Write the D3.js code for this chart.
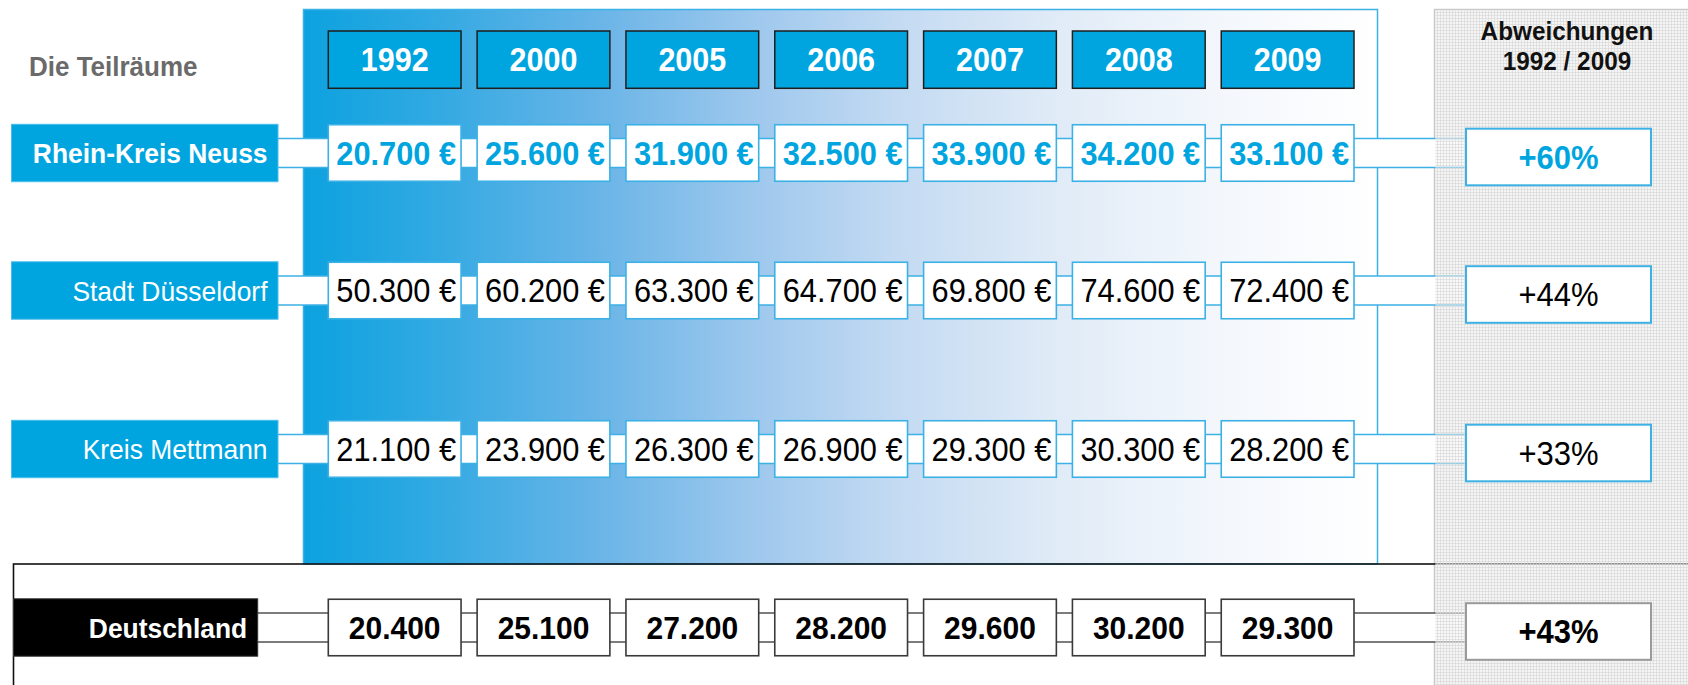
<!DOCTYPE html>
<html>
<head>
<meta charset="utf-8">
<script src="https://cdn.jsdelivr.net/npm/d3@7/dist/d3.min.js"></script>
<style>
html,body{margin:0;padding:0;background:#fff;}
svg{display:block;font-family:"Liberation Sans",Arial,Helvetica,sans-serif;}
</style>
</head>
<body>
<svg id="chart" width="1688" height="685"></svg>
<script>
// ---- data ----
const years = ["1992", "2000", "2005", "2006", "2007", "2008", "2009"];
const regions = ["Rhein-Kreis Neuss", "Stadt Düsseldorf", "Kreis Mettmann"];
const neuss = [20700, 25600, 31900, 32500, 33900, 34200, 33100];
const duesseldorf = [50300, 60200, 63300, 64700, 69800, 74600, 72400];
const mettmann = [21100, 23900, 26300, 26900, 29300, 30300, 28200];
const national = [20400, 25100, 27200, 28200, 29600, 30200, 29300];
const nationalLabel = "Deutschland";
const changes = [60, 44, 33, 43];
const sideTitle = "Die Teilräume";
const changeTitle = ["Abweichungen", "1992 / 2009"];

// ---- layout ----
const svg = d3.select("#chart");
const BLUE = "#00a5e0", LINE = "#3cb1e5";
const fmt = v => d3.format(",")(v).replace(/,/g, ".");
const SY = 1.07; // slight vertical stretch of the glyphs seen in the reference

function txt(parent, xp, yp, size, weight, fill, anchor, str) {
  return parent.append("text")
    .attr("transform", `translate(${xp},${yp}) scale(1,${SY})`)
    .attr("font-size", size).attr("font-weight", weight).attr("fill", fill)
    .attr("text-anchor", anchor).text(str);
}

const x = d3.scaleBand().domain(years).range([328.3, 1354]).paddingInner(0.108).paddingOuter(0);
const rowKeys = regions.concat([nationalLabel]);
const y = d3.scaleOrdinal().domain(rowKeys).range([153, 290.5, 449, 627.5]);
const boxH = 56.5;
const pctX0 = 1466, pctX1 = 1651;

const defs = svg.append("defs");
const grad = defs.append("linearGradient").attr("id", "panelGrad").attr("x1", 0).attr("x2", 1).attr("y1", 0).attr("y2", 0);
[[0, "#0ca2df"], [0.12, "#31a9e2"], [0.27, "#68b4e7"], [0.42, "#9ec8ed"], [0.55, "#c3daf2"], [0.7, "#e0ebf7"], [0.85, "#f3f7fc"], [1, "#ffffff"]]
  .forEach(([o, c]) => grad.append("stop").attr("offset", o).attr("stop-color", c));

const pat = defs.append("pattern").attr("id", "hatch").attr("patternUnits", "userSpaceOnUse").attr("width", 3).attr("height", 3);
pat.append("rect").attr("width", 3).attr("height", 3).attr("fill", "rgba(242,242,242,0.45)");
pat.append("path").attr("d", "M0,0.5H3M0.5,0V3").attr("stroke", "rgba(214,214,214,0.6)").attr("stroke-width", 1);

// blue panel
svg.append("rect").attr("x", 303.5).attr("y", 9.5).attr("width", 1074).attr("height", 554.5)
  .attr("fill", "url(#panelGrad)").attr("stroke", LINE).attr("stroke-width", 1.5);

// gray panel base
svg.append("rect").attr("x", 1434.5).attr("y", 9.5).attr("width", 300).attr("height", 700)
  .attr("fill", "#f7f7f7").attr("stroke", "#c9c9c9").attr("stroke-width", 1.5);

// national frame
svg.append("rect").attr("x", 13.5).attr("y", 564).attr("width", 1720).attr("height", 200)
  .attr("fill", "none").attr("stroke", "#111").attr("stroke-width", 1.6);

// connectors
const labelRight = {"Rhein-Kreis Neuss": 278, "Stadt Düsseldorf": 278, "Kreis Mettmann": 278, "Deutschland": 257.7};
rowKeys.forEach((k, i) => {
  const c = y(k), x0 = labelRight[k], col = i < 3 ? LINE : "#505050";
  svg.append("rect").attr("x", x0).attr("y", c - 14.5).attr("width", pctX0 - x0).attr("height", 29).attr("fill", "#fff");
  [c - 14.5, c + 14.5].forEach(yy => svg.append("line").attr("x1", x0).attr("x2", pctX0).attr("y1", yy).attr("y2", yy)
    .attr("stroke", col).attr("stroke-width", 1.5));
});

// gray overlay
svg.append("rect").attr("x", 1435.3).attr("y", 10.3).attr("width", 260).attr("height", 700).attr("fill", "url(#hatch)");

// titles
txt(svg, 29, 76, 26, "bold", "#6a6a6a", "start", sideTitle);
changeTitle.forEach((t, i) => txt(svg, 1567, 40 + i * 29.5, 24.3, "bold", "#111", "middle", t));

// year header boxes
years.forEach(d => {
  svg.append("rect").attr("x", x(d)).attr("y", 31).attr("width", x.bandwidth()).attr("height", 57.3)
    .attr("fill", BLUE).attr("stroke", "#1e1e1e").attr("stroke-width", 1.5);
  txt(svg, x(d) + x.bandwidth() / 2, 59.6 + 0.358 * 30.5 * SY, 30.5, "bold", "#fff", "middle", d);
});

// rows
const rowStyle = [
  {fill: BLUE, stroke: "#4cbdea", bold: true, vcol: BLUE, vbold: true, euro: true, pstroke: LINE, pcol: BLUE, pbold: true},
  {fill: BLUE, stroke: "#4cbdea", bold: false, vcol: "#000", vbold: false, euro: true, pstroke: LINE, pcol: "#000", pbold: false},
  {fill: BLUE, stroke: "#4cbdea", bold: false, vcol: "#000", vbold: false, euro: true, pstroke: LINE, pcol: "#000", pbold: false},
  {fill: "#000", stroke: "#333", bold: true, vcol: "#000", vbold: true, euro: false, pstroke: "#9a9a9a", pcol: "#000", pbold: true}
];
const series = [neuss, duesseldorf, mettmann, national];
const labelLeft = [11.5, 11.5, 11.5, 13.5];

rowKeys.forEach((k, i) => {
  const s = rowStyle[i], c = y(k);
  svg.append("rect").attr("x", labelLeft[i]).attr("y", c - 28.7).attr("width", labelRight[k] - labelLeft[i]).attr("height", 57.4)
    .attr("fill", s.fill).attr("stroke", s.stroke).attr("stroke-width", 1);
  txt(svg, labelRight[k] - 10.5, c + 0.358 * 26.4 * SY, 26.4, s.bold ? "bold" : "normal", "#fff", "end", k);

  series[i].forEach((v, j) => {
    const yr = years[j];
    svg.append("rect").attr("x", x(yr)).attr("y", c - boxH / 2).attr("width", x.bandwidth()).attr("height", boxH)
      .attr("fill", "#fff").attr("stroke", i < 3 ? LINE : "#3a3a3a").attr("stroke-width", 1.6);
    const fs = s.euro ? 30.8 : 30;
    txt(svg, x(yr) + x.bandwidth() / 2 + (s.euro ? 1.5 : 0), c + 0.358 * fs * SY, fs,
      s.vbold ? "bold" : "normal", s.vcol, "middle", fmt(v) + (s.euro ? " €" : ""));
  });

  const pc = c + 4;
  svg.append("rect").attr("x", pctX0).attr("y", pc - 28.3).attr("width", pctX1 - pctX0).attr("height", 56.6)
    .attr("fill", "#fff").attr("stroke", s.pstroke).attr("stroke-width", 2);
  txt(svg, (pctX0 + pctX1) / 2, pc + 0.358 * 31 * SY, 31, s.pbold ? "bold" : "normal", s.pcol, "middle", "+" + changes[i] + "%");
});
</script>
</body>
</html>
